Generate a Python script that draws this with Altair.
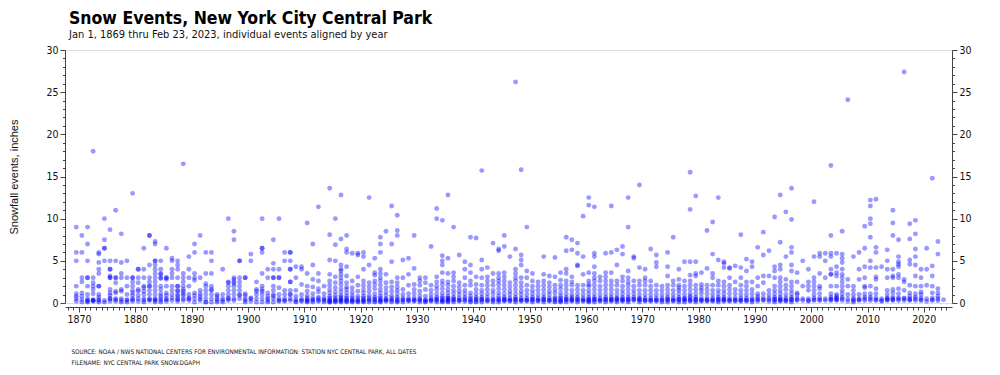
import altair as alt
import pandas as pd

TITLE = "Snow Events, New York City Central Park"
SUBTITLE = "Jan 1, 1869 thru Feb 23, 2023, individual events aligned by year"
Y_TITLE = "Snowfall events, inches"
SOURCE = "SOURCE: NOAA / NWS NATIONAL CENTERS FOR ENVIRONMENTAL INFORMATION: STATION NYC CENTRAL PARK, ALL DATES"
FILENAME = "FILENAME: NYC CENTRAL PARK SNOW.DGAPH"

# snowfall of each event (inches), per calendar year
events_by_year = [
    "1869: 9 6 5 2 1.1 0.8 0.5 0.2",
    "1870: 8 6 3 2.5 1.2 0.8 0.4 0.1",
    "1871: 9 7 5 3 3 2 1 0.5 0.3 0.2 0.1",
    "1872: 18 3 2.4 2 1.6 1.1 0.4 0.3 0.3 0.2",
    "1873: 6 5.8 4.8 4 3.5 2 2 1 0.7 0.4 0.3 0.1",
    "1874: 10 7.5 6.5 6.5 5 0.3 0.1",
    "1875: 8.7 5 4 4 3.2 3 3 1.6 1.2 0.9 0.5 0.5 0.2",
    "1876: 11 5 3 3 2.4 1.4 1.2 0.5 0.4 0.2",
    "1877: 8.2 4.8 3.5 3 1.6 1.4 0.5 0.3 0.1",
    "1878: 5 3 2 1 0.4 0.3 0.1",
    "1879: 13 3 3 2.5 2 1.5 1.2 0.9 0.5 0.4 0.2",
    "1880: 4 4 3 2.4 1.6 1.4 0.9 0.5 0.2",
    "1881: 6.5 4 3 2 1.8 1.4 1 0.5 0.3 0.1",
    "1882: 8 8 4.5 3 2.5 2 2 1.5 1 0.5 0.4 0.3",
    "1883: 7.3 7 5 5 4.5 4 3.5 3 2.5 2 1.5 1 0.5 0.4 0.3 0.1",
    "1884: 5 4 3.5 3.4 3 2.9 2 1.6 1.1 0.8 0.5 0.3 0.1",
    "1885: 6.5 3 3 2.8 2 1.2 0.9 0.5 0.4 0.2",
    "1886: 5.3 5 4 3.5 3 2 1.5 1 0.6 0.3",
    "1887: 5 4.5 4 3 2 2 1.5 1.4 1 0.8 0.5 0.4 0.2",
    "1888: 16.5 3.5 3 2.5 2 1.6 1.4 1.1 0.9 0.5 0.3",
    "1889: 5.5 4 3 2 1 0.6 0.5 0.3",
    "1890: 7 6 3.5 3 2.7 1.2 0.9 0.5 0.1",
    "1891: 8 3 1.5 1.1 0.8 0.5 0.3",
    "1892: 6 3.5 2.3 2 1.5 1 0.5 0.1 0.1",
    "1893: 6 5 3.5 2 1.6 1.5 1 0.5 0.1",
    "1894: 1 0.8 0.5 0.3 0.1",
    "1895: 4 1 0.5 0.3 0.1",
    "1896: 10 2.5 2.4 2 1.5 1 0.6 0.5 0.3",
    "1897: 8.5 7.5 3 2.8 2.5 2.3 2 1.5 1 0.5 0.3",
    "1898: 5 5 3 2.5 2 1.5 1 0.9 0.5",
    "1899: 3 3 1.1 0.9 0.5 0.3 0.1",
    "1900: 5.8 5 0.6 0.5 0.2",
    "1901: 2.5 1.6 1.4 1 0.5 0.1",
    "1902: 10 6.5 6.5 6 3.5 2 1.6 1.4 1 0.5 0.1",
    "1903: 4 3 1.2 0.8 0.5 0.3 0.1",
    "1904: 7.5 4.7 4 3 3 2 1.5 1 0.8 0.5 0.1",
    "1905: 10 4 3 3 1.8 1 0.5 0.3 0.2",
    "1906: 6 5 1.5 1 0.5 0.3 0.2",
    "1907: 6 6 5 4 4 2.5 2.5 1.5 1 1 0.5 0.3",
    "1908: 4.3 3 1.5 0.8 0.4 0.2 0.1",
    "1909: 4.3 4 2.2 1 0.5 0.3 0.2",
    "1910: 9.5 3.5 2 1.4 0.9 0.6 0.4 0.3 0.2 0.1",
    "1911: 7 4.5 2.8 1.9 1.1 0.6 0.4 0.3 0.1",
    "1912: 11.4 3.5 2.6 1.7 1.3 0.7 0.5 0.3 0.2",
    "1913: 2 1.1 0.6 0.4 0.3 0.1",
    "1914: 13.6 8.1 5.1 3.4 2.6 2.1 1.6 1.2 0.8 0.6 0.4 0.3 0.2 0.1 0.1",
    "1915: 10 6.9 5 3.1 2.4 1.8 1.3 0.9 0.6 0.4 0.3 0.2 0.1",
    "1916: 12.8 7.6 4.5 4 3.8 3.4 3 2.6 2.2 1.7 1.3 0.9 0.7 0.5 0.4 0.3 0.2 0.1",
    "1917: 8 6.4 6 4.3 3.2 2.4 1.9 1.6 1.2 0.8 0.6 0.4 0.3 0.2 0.1",
    "1918: 5.9 2.6 1.8 1.3 0.9 0.6 0.4 0.3 0.2 0.1",
    "1919: 5.9 5.7 3.1 2.1 1.4 0.8 0.5 0.3 0.2 0.1",
    "1920: 6 5.5 4 2.6 2.1 1.6 1.2 0.8 0.6 0.4 0.3 0.2 0.1",
    "1921: 12.5 4.5 2.4 1.9 1.4 0.9 0.6 0.4 0.3 0.1",
    "1922: 5.3 3.6 3.3 2.6 2.2 1.7 1.1 0.7 0.5 0.4 0.2 0.1",
    "1923: 7.8 7 6 4 3.5 3 2.6 2.1 1.6 1.2 0.8 0.6 0.4 0.3 0.2 0.1",
    "1924: 8.5 3.4 2.4 1.8 1.3 0.9 0.5 0.4 0.3 0.2",
    "1925: 11.5 7 4.9 2.5 1.9 1.4 0.9 0.6 0.4 0.3 0.1",
    "1926: 10.4 8.6 8 3 2.4 1.9 1.5 1.1 0.7 0.5 0.3 0.2 0.1",
    "1927: 5.1 3 1.6 1 0.6 0.4 0.3 0.1",
    "1928: 5.3 3.4 2.1 1.1 0.6 0.4 0.3 0.2",
    "1929: 8 4.1 2.2 1.6 1.1 0.6 0.4 0.3 0.2",
    "1930: 3 2.6 2.1 1.4 0.9 0.5 0.4 0.3 0.1",
    "1931: 3 2.4 1.6 0.8 0.4 0.3 0.2 0.1",
    "1932: 6.7 2.1 1.5 1 0.6 0.4 0.3 0.2",
    "1933: 11.2 10 3.1 2.5 2 1.6 1.1 0.7 0.5 0.4 0.3 0.1",
    "1934: 9.8 5.6 5 4.5 3.6 2.6 2.2 1.7 1.2 0.8 0.6 0.4 0.3 0.2 0.1",
    "1935: 12.8 5.3 3.5 2.5 2.1 1.6 1.2 0.8 0.6 0.5 0.4 0.3 0.2 0.1",
    "1936: 9 3.6 3.1 2.6 2 1.5 1.1 0.7 0.5 0.4 0.3 0.1",
    "1937: 5.7 2.4 1.9 1.4 1 0.6 0.4 0.3 0.2",
    "1938: 4.9 4 3 2.1 1.5 1.1 0.7 0.5 0.3 0.2",
    "1939: 7.8 4.5 3.6 2.6 2.1 1.2 0.8 0.5 0.4 0.2 0.1",
    "1940: 7.7 3.1 2.2 1.6 1.1 0.7 0.5 0.4 0.2 0.1",
    "1941: 15.7 5.1 4 3 2.1 1.5 1.1 0.7 0.5 0.4 0.3 0.1",
    "1942: 4.2 3.1 2.6 2.1 1.6 1.1 0.7 0.4 0.3 0.2",
    "1943: 7.1 3.5 2.6 2.1 1.5 1.1 0.6 0.4 0.3 0.1",
    "1944: 6.4 6.2 3.5 3 2.6 2.2 1.7 1.2 0.8 0.5 0.4 0.3 0.1",
    "1945: 8 6.7 3.6 3.1 2.6 2.1 1.6 1.1 0.7 0.5 0.4 0.3 0.2",
    "1946: 5.5 2.4 1.9 1.4 1 0.6 0.4 0.3 0.2",
    "1947: 26.2 6.4 4 3.5 3 2.6 2.1 1.6 1.1 0.7 0.5 0.4 0.3 0.1",
    "1948: 15.8 5.7 5.1 4.5 3 2.4 1.9 1.4 1 0.6 0.4 0.3 0.2",
    "1949: 9 3.8 3 2.1 1.5 1 0.6 0.4 0.3 0.2",
    "1950: 3.5 2.6 2 1.5 1.1 0.7 0.5 0.4 0.3 0.1",
    "1951: 2.5 2 1.5 1 0.6 0.4 0.3 0.2",
    "1952: 5.5 3.4 2.6 2.1 1.6 1.1 0.7 0.5 0.4 0.3 0.1",
    "1953: 3.2 2.4 1.9 1.4 1 0.6 0.4 0.3 0.2",
    "1954: 5.4 3.1 2.1 1.6 1.2 0.7 0.5 0.4 0.2 0.1",
    "1955: 3.6 2.7 2.1 1.7 1.2 0.8 0.6 0.4 0.3 0.2 0.1",
    "1956: 7.8 6.2 4 3.5 2.6 2.1 1.6 1.1 0.7 0.5 0.4 0.3 0.1",
    "1957: 7.5 6.3 3.1 2.5 2.1 1.5 1 0.7 0.5 0.4 0.3 0.2",
    "1958: 7.1 5.9 4.5 4.4 2.1 1.6 1.1 0.7 0.5 0.4 0.3 0.1",
    "1959: 10.3 5.5 3.4 2.1 1.5 1 0.6 0.4 0.3 0.2",
    "1960: 12.5 11.6 3.6 2.6 2.2 2 1.5 1.1 0.7 0.5 0.4 0.3 0.2 0.1",
    "1961: 11.4 5.9 5.5 4.3 3.5 3 2.6 2.1 1.6 1.1 0.7 0.5 0.4 0.3 0.1",
    "1962: 3.1 2.6 2 1.5 1 0.6 0.4 0.3 0.2",
    "1963: 5.9 3.6 3.1 2.6 2.1 1.6 1.1 0.7 0.5 0.4 0.3 0.1",
    "1964: 11.5 6 3.6 2.6 2.1 1.6 1.1 0.7 0.5 0.4 0.3 0.2",
    "1965: 6.3 4.5 2.6 2.1 1.5 1 0.6 0.5 0.4 0.3 0.1",
    "1966: 6.7 5.8 3.1 2.6 2 1.5 1.1 0.7 0.5 0.4 0.3 0.2",
    "1967: 12.5 9 3.8 3 2.5 2.1 1.6 1.1 0.7 0.5 0.4 0.3 0.1",
    "1968: 5.5 5.3 2.6 2 1.5 1.1 0.7 0.5 0.4 0.3",
    "1969: 14 4.2 2.6 2.1 1.5 1 0.6 0.5 0.4 0.3 0.1",
    "1970: 4 3 2.6 2.1 1.5 1 0.6 0.4 0.3 0.2",
    "1971: 6.4 2.6 2 1.5 1 0.6 0.4 0.3 0.2",
    "1972: 5.7 4.8 4.3 2.1 1.5 1 0.6 0.4 0.3 0.2",
    "1973: 2 1.5 1 0.6 0.4 0.3 0.1",
    "1974: 6 4.3 3.2 2.1 1.6 1.1 0.7 0.5 0.4 0.3 0.1",
    "1975: 7.8 2.6 2.1 1.5 1 0.6 0.4 0.3 0.2",
    "1976: 4 2.8 2.1 1.8 1.5 1.1 0.7 0.5 0.4 0.3 0.1",
    "1977: 4.9 2.6 2 1.5 1 0.6 0.5 0.4 0.3 0.1",
    "1978: 15.5 11.1 4.9 3.3 2.6 2.1 1.6 1.1 0.8 0.6 0.4 0.3 0.2",
    "1979: 12.7 4.9 3.5 3.2 2.1 1.6 1.1 0.7 0.5 0.4 0.3 0.1",
    "1980: 3.6 2.2 1.8 1.5 1.1 0.6 0.4 0.3 0.2",
    "1981: 8.6 4.1 2.1 1.6 1.1 0.6 0.4 0.3 0.2",
    "1982: 9.6 5.8 3.5 3 2.1 1.5 1 0.6 0.4 0.3 0.2",
    "1983: 12.5 5.1 2.6 2.1 1.5 1.1 0.7 0.5 0.4 0.3 0.1",
    "1984: 4.9 4.7 4.2 2.5 2 1.5 1.1 0.7 0.5 0.4 0.3 0.2",
    "1985: 4.2 4.1 3 2.1 1.6 1.1 0.6 0.4 0.3 0.2",
    "1986: 4.4 2.5 1.6 1.1 0.6 0.4 0.3 0.2",
    "1987: 8.1 4.2 3 2.1 1.5 1 0.6 0.4 0.3 0.2",
    "1988: 5.2 3.8 2.5 2 1.5 1 0.6 0.4 0.3 0.2",
    "1989: 4.9 4.3 2.5 1.6 1.1 0.6 0.4 0.3 0.1",
    "1990: 6.6 3 2 1.1 0.8 0.5 0.4 0.2",
    "1991: 8.4 5.7 3.2 2.4 1.1 0.6 0.4 0.3",
    "1992: 6.2 3.2 1.5 1 0.6 0.4 0.2",
    "1993: 10.2 4.3 3.8 3 2 1.5 1.1 0.7 0.5 0.4 0.3 0.1",
    "1994: 12.8 7.2 4.5 4 3 2.5 2 1.5 1.1 0.7 0.5 0.4 0.3 0.2",
    "1995: 10.8 5.5 2.8 2.1 1.6 1 0.6 0.4 0.3 0.2",
    "1996: 13.6 9.9 6.6 6 4.5 3.8 2.5 2 1.5 1.1 0.7 0.5 0.4 0.3 0.1",
    "1997: 3.6 2.5 1.2 1 0.6 0.4 0.3",
    "1998: 5 2 0.5 0.3",
    "1999: 4 2.5 2 1.5 0.5 0.3 0.2",
    "2000: 12 5.5 3 2.5 2 1.5 1 0.6 0.4 0.3",
    "2001: 5.9 5.5 3.5 2 1.7 1.1 0.6 0.4 0.3",
    "2002: 5.9 5 3 0.5 0.3",
    "2003: 16.3 8 5.9 5.5 4 3.4 3.4 2 1.1 0.7 0.5 0.4 0.3",
    "2004: 5.9 4.3 3.6 3.2 2 1 0.8 0.6 0.5 0.4 0.3",
    "2005: 8.5 5.8 5.3 4.8 4 3.4 3 2.5 2 1.5 1.1 0.7 0.5 0.3",
    "2006: 24.1 2.8 2 1 0.5 0.2",
    "2007: 5.5 2 1.5 1 0.6 0.4 0.3 0.1",
    "2008: 6 4 2.8 1 0.5 0.4 0.3",
    "2009: 9.1 6.5 4.3 3 2 1.8 1.1 0.7 0.5 0.3",
    "2010: 12.2 11.5 10 9.4 7.8 5 4.2 2 1.1 0.7 0.5 0.3",
    "2011: 12.3 6.6 6 4.2 3.1 2.8 1.7 1.1 0.6 0.4 0.3",
    "2012: 4.3 0.5 0.3 0.2",
    "2013: 6.3 5 4 3 1.5 1 0.6 0.5 0.4 0.3",
    "2014: 11 9.5 8 4 3.2 3 1.6 1.2 0.7 0.5 0.4 0.3",
    "2015: 7.5 5.5 4.9 4.6 4.3 3.4 3 1.7 1.1 0.6 0.5 0.3",
    "2016: 27.4 2.8 2.5 1.5 0.6 0.5 0.3",
    "2017: 9.4 7.6 5.1 4.6 2.1 1.2 0.8 0.5 0.4 0.3",
    "2018: 9.8 8.2 6.4 5.5 4.5 3.2 2 1.1 0.7 0.5 0.3",
    "2019: 4 3 2 1.3 1 0.6 0.4 0.3",
    "2020: 6.5 4 2.1 0.5 0.2",
    "2021: 14.8 4.4 3.2 2 1.2 0.6 0.4 0.3",
    "2022: 7.3 5.8 1.7 1.2 0.8 0.5 0.3",
    "2023: 0.4",
]

x_ticks = list(range(1868, 2025))
y_ticks = list(range(0, 31))

rows = []
for line in events_by_year:
    yr, vals = line.split(":")
    for v in vals.split():
        rows.append({"year": int(yr), "snow": float(v)})
df = pd.DataFrame(rows)

FONT = "Liberation Sans Narrow, Arial Narrow, DejaVu Sans Condensed, Roboto Condensed, Liberation Sans, Arial, sans-serif"
AXC = "#444444"

x_enc = alt.X(
    "xpos:Q",
    scale=alt.Scale(domain=[1867.5, 2025], nice=False, zero=False),
    axis=alt.Axis(
        values=x_ticks, format="d",
        labelExpr="datum.value % 10 === 0 ? datum.label : ''",
        tickSize={"condition": {"test": "datum.value % 10 === 0", "value": 5}, "value": 3},
        labelOverlap=False, labelFlush=False, offset=4, grid=False, title=None,
        labelFont=FONT, labelFontSize=10.5, labelColor="#111111", labelPadding=2,
        domainColor=AXC, tickColor=AXC,
    ),
)

def y_axis(orient, title):
    kw = dict(
        orient=orient, values=y_ticks,
        labelExpr="datum.value % 5 === 0 ? datum.label : ''",
        tickSize={"condition": {"test": "datum.value % 5 === 0", "value": 5}, "value": 2.5},
        labelOverlap=False, labelFlush=False, grid=False,
        labelFont=FONT, labelFontSize=10.5, labelColor="#111111", labelPadding=2,
        domainColor=AXC, tickColor=AXC,
    )
    if title:
        kw.update(title=title, titleFont="Liberation Sans, Arial, sans-serif", titleFontSize=11,
                  titleFontWeight="normal", titleColor="#111111", titlePadding=26)
    else:
        kw.update(title=None)
    return alt.Axis(**kw)

yscale = alt.Scale(domain=[0, 30], nice=False, zero=True)

base = alt.Chart(df).transform_calculate(xpos="datum.year + 0.5")

points = base.mark_circle(size=24, color="#0000ff", opacity=0.4).encode(
    x=x_enc,
    y=alt.Y("snow:Q", scale=yscale, axis=y_axis("left", Y_TITLE)),
)

right = base.mark_circle(size=1, opacity=0).encode(
    x=x_enc,
    y=alt.Y("snow:Q", scale=yscale, axis=y_axis("right", None)),
)

footer = alt.Chart(alt.Data(values=[{}])).mark_text(
    align="left", baseline="alphabetic", font=FONT, fontSize=6.3,
    lineHeight=11.5, color="#111111",
).encode(
    x=alt.value(6.5), y=alt.value(303.5), text=alt.value([SOURCE, FILENAME]),
)

chart = alt.layer(points, right, footer).resolve_scale(y="independent").properties(
    width=887, height=253,
    autosize="none",
    padding={"left": 65, "top": 50, "right": 48, "bottom": 72},
    title=alt.TitleParams(
        text=TITLE, subtitle=SUBTITLE, anchor="start", frame="group",
        font=FONT, fontSize=17.5, fontWeight="bold", color="#000000",
        subtitleFont=FONT, subtitleFontSize=11, subtitleColor="#111111",
        subtitlePadding=2, dx=4, offset=5,
    ),
).configure_view(stroke="transparent").configure(background="white")

chart.save("out.html", embed_options={"renderer": "svg", "actions": False})
